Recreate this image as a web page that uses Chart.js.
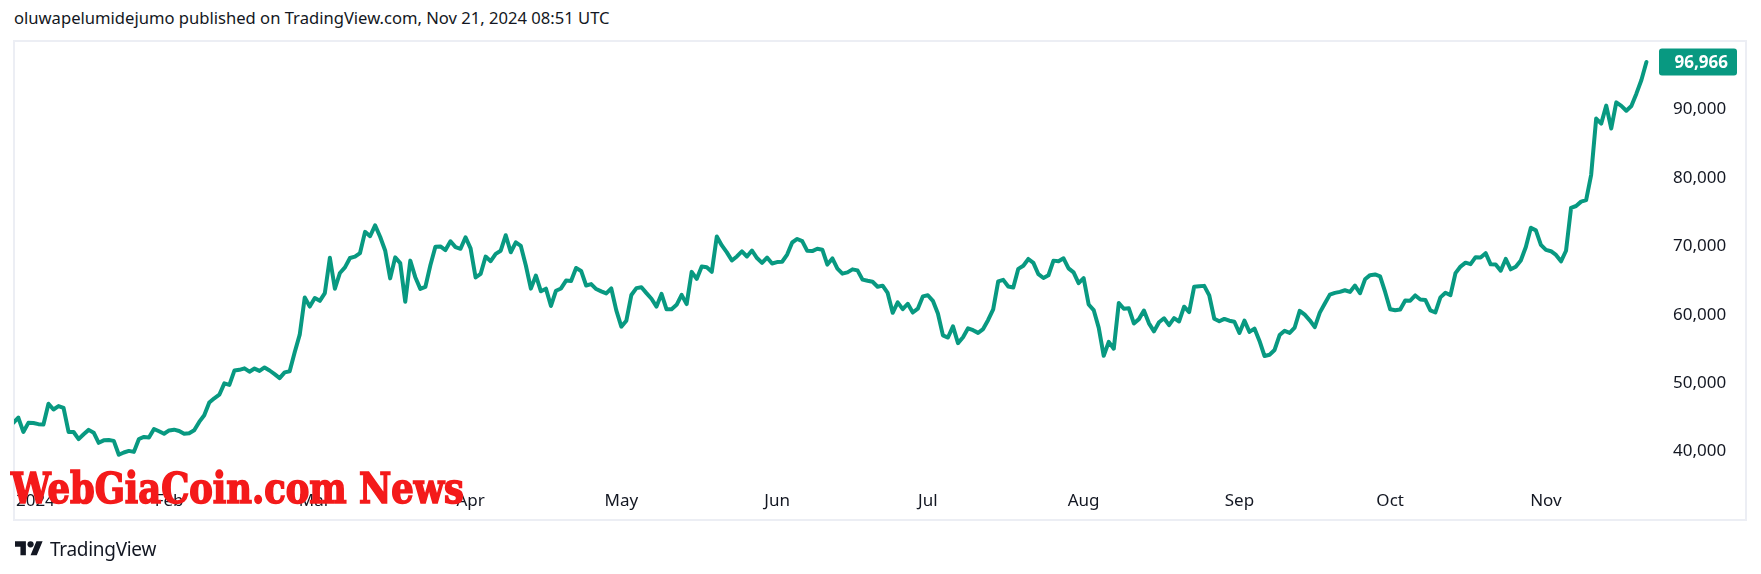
<!DOCTYPE html>
<html>
<head>
<meta charset="utf-8">
<script src="https://cdn.jsdelivr.net/npm/chart.js@4.4.1/dist/chart.umd.min.js"></script>
<style>
  html, body { margin: 0; padding: 0; background: #fff; }
  body { width: 1761px; height: 574px; position: relative; overflow: hidden; font-family: "Noto Sans", sans-serif; color: #131722; }
  #header { position: absolute; left: 14px; top: 8px; font-size: 16.6px; line-height: 20px; white-space: nowrap; }
  #frame { position: absolute; left: 13px; top: 40px; width: 1734px; height: 481px; border: 2px solid #eceef4; box-sizing: border-box; }
  #chart { position: absolute; left: 0; top: 0; }
  #logo { position: absolute; left: 15px; top: 537px; height: 24px; display: flex; align-items: center; }
  #logo span { font-size: 19px; margin-left: 7px; letter-spacing: -0.3px; }
  #wm { position: absolute; left: 11px; top: 467px; font-family: "DejaVu Serif", serif; font-weight: bold; font-stretch: condensed;
        font-size: 43px; line-height: 1; color: #f41a1a; -webkit-text-stroke: 1.6px #f41a1a; white-space: nowrap; transform-origin: left top; }
</style>
</head>
<body>
<div id="header">oluwapelumidejumo published on TradingView.com, Nov 21, 2024 08:51 UTC</div>
<div id="frame"></div>
<canvas id="chart" width="1761" height="574"></canvas>
<div id="wm">WebGiaCoin.com News</div>
<div id="logo">
  <svg width="28" height="22" viewBox="0 0 36 28"><path fill="#131722" d="M14 22H7V11H0V4h14v18zM28 22h-8l7.5-18h8L28 22z"/><circle fill="#131722" cx="20" cy="8" r="4"/></svg>
  <span>TradingView</span>
</div>
<script>
// BTCUSD daily closes, 2024
const jan = [44180, 44957, 42848, 44179, 44162, 43989, 43943, 46970, 46139, 46627, 46368, 42853, 42842, 41796, 42511, 43154,
             42742, 41262, 41618, 41665, 41545, 39508, 39845, 40077, 39933, 41816, 42120, 42035, 43288, 42952, 42582];
const feb = [43075, 43185, 42993, 42583, 42658, 43084, 44318, 45301, 47147, 47771, 48293, 49958, 49742, 51826, 51938, 52160,
             51663, 52122, 51779, 52284, 51839, 51304, 50731, 51571, 51733, 54522, 57085, 62504, 61198];
const mar = [62440, 62029, 63167, 68330, 63801, 66106, 66925, 68300, 68498, 69019, 72123, 71481, 73083, 71397, 69403, 65316,
             68390, 67548, 61912, 67913, 65491, 63779, 64062, 67234, 69958, 69987, 69455, 70744, 69892, 69646, 71333];
const apr = [69702, 65446, 65980, 68508, 67837, 68896, 69362, 71631, 69139, 70587, 70060, 67195, 63821, 65738, 63426, 63811,
             61276, 63512, 63843, 64994, 64927, 66837, 66407, 64276, 64481, 63755, 63419, 63113, 63841, 60636];
const may = [58254, 59123, 62889, 63891, 64031, 63161, 62334, 61187, 63049, 60793, 60793, 61448, 62901, 61552, 66267, 65231,
             67051, 66940, 66278, 71448, 70136, 69122, 67929, 68526, 69265, 68518, 69394, 68296, 67578, 68364, 67491];
const jun = [67706, 67751, 68804, 70567, 71082, 70757, 69342, 69305, 69648, 69512, 67332, 68241, 66757, 66012, 66191, 66639,
             66490, 65140, 64960, 64828, 64096, 64252, 63180, 60277, 61804, 60811, 61604, 60320, 60887, 62678];
const jul = [62851, 62029, 60173, 56977, 56662, 58303, 55849, 56705, 58009, 57742, 57344, 57899, 59231, 60788, 64870, 65097,
             64118, 63974, 66710, 67164, 68154, 67585, 65927, 65372, 65777, 67912, 67813, 68255, 66784, 66188, 64628];
const aug = [65354, 61498, 60683, 58116, 53991, 56034, 55027, 61710, 60880, 60945, 58719, 59355, 60610, 58739, 57560, 58894,
             59479, 58483, 59493, 59013, 61175, 60381, 64094, 64178, 64220, 62834, 59415, 59035, 59388, 59119, 58969];
const sep = [57326, 59132, 57487, 57971, 56160, 53962, 54147, 54842, 57020, 57648, 57343, 58127, 60571, 60005, 59182, 58192,
             60309, 61649, 62940, 63193, 63348, 63578, 63339, 64262, 63143, 65181, 65790, 65888, 65603, 63327];
const oct = [60805, 60649, 60752, 62086, 62058, 62819, 62224, 62160, 60636, 60326, 62540, 63206, 62870, 66083, 67041, 67612,
             67399, 68418, 68362, 69002, 67367, 67361, 66433, 68161, 66642, 67014, 67929, 69908, 72720, 72339, 70215];
const nov = [69482, 69289, 68741, 67811, 69359, 75639, 75905, 76545, 76778, 80474, 88701, 87955, 90585, 87250, 91066, 90558,
             89845, 90542, 92343, 94339, 96966];

// axis ticks
const monthLabels = ['2024', 'Feb', 'Mar', 'Apr', 'May', 'Jun', 'Jul', 'Aug', 'Sep', 'Oct', 'Nov'];
const monthDays   = [0, 31, 60, 91, 121, 152, 182, 213, 244, 274, 305];   // day index of each month start
const yTicks      = [40000, 50000, 60000, 70000, 80000, 90000];

const closes = [].concat(jan, feb, mar, apr, may, jun, jul, aug, sep, oct, nov);
const points = closes.map((v, i) => ({ x: i, y: v }));

const GREEN = '#089981';
const TEXT  = '#131722';
const FONT  = '"Noto Sans", sans-serif';

// last price tag on the price scale
const lastPriceTag = {
  id: 'lastPriceTag',
  afterDraw(chart) {
    const { ctx } = chart;
    const y = chart.scales.y;
    const v = closes[closes.length - 1];
    const py = y.getPixelForValue(v);
    ctx.save();
    ctx.fillStyle = GREEN;
    ctx.beginPath();
    ctx.roundRect(y.left - 1, py - 13.5, y.width + 10, 27, 3);
    ctx.fill();
    ctx.fillStyle = '#fff';
    ctx.font = 'bold 17px ' + FONT;
    ctx.textAlign = 'right';
    ctx.textBaseline = 'middle';
    ctx.fillText(v.toLocaleString('en-US'), y.right, py + 1);
    ctx.restore();
  }
};

new Chart(document.getElementById('chart'), {
  type: 'line',
  data: {
    datasets: [{
      data: points,
      borderColor: GREEN,
      borderWidth: 4,
      borderJoinStyle: 'round',
      borderCapStyle: 'round',
      pointRadius: 0,
      tension: 0,
      fill: false
    }]
  },
  options: {
    responsive: false,
    animation: false,
    events: [],
    layout: { padding: { left: 14, top: 41, right: 33, bottom: 53 } },
    plugins: { legend: { display: false }, tooltip: { enabled: false } },
    scales: {
      x: {
        type: 'linear',
        min: 0.14,
        max: 327.7,
        grid: { display: false, drawTicks: false },
        border: { display: false },
        afterBuildTicks: s => { s.ticks = monthDays.map(v => ({ value: v })); },
        afterFit: s => { s.height = 40; s.paddingLeft = 0; s.paddingRight = 0; },
        ticks: {
          autoSkip: false, maxRotation: 0, padding: 10, color: TEXT,
          font: { family: FONT, size: 17 },
          // first label is pushed right so it stays inside the pane, like TradingView does
          callback: (v, i) => i === 0 ? ' '.repeat(10) + monthLabels[i] : monthLabels[i]
        }
      },
      y: {
        type: 'linear',
        position: 'right',
        min: 35674,
        max: 100044,
        grid: { display: false, drawTicks: false },
        border: { display: false },
        afterBuildTicks: s => { s.ticks = yTicks.map(v => ({ value: v })); },
        afterFit: s => { s.width = 68; s.paddingTop = 0; s.paddingBottom = 0; },
        ticks: {
          padding: 13, color: TEXT,
          font: { family: FONT, size: 17 },
          callback: v => v.toLocaleString('en-US')
        }
      }
    }
  },
  plugins: [lastPriceTag]
});

// squeeze the watermark to its width in the screenshot
const wm = document.getElementById('wm');
wm.style.transform = 'scaleX(' + (453 / wm.getBoundingClientRect().width) + ')';
</script>
</body>
</html>
